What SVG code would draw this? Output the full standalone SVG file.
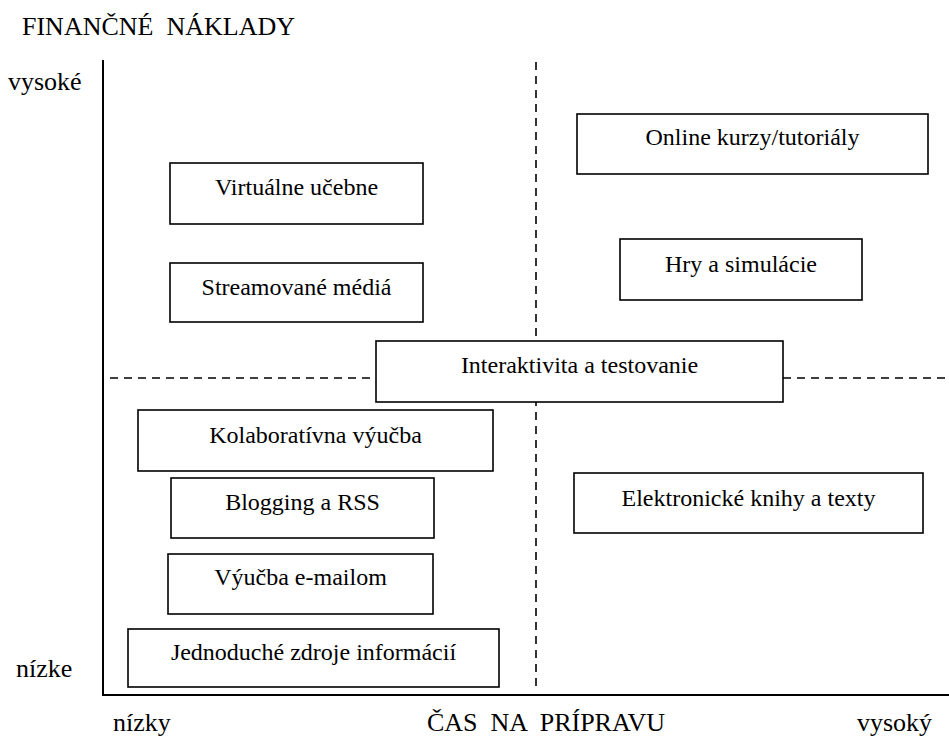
<svg xmlns="http://www.w3.org/2000/svg" width="949" height="739" viewBox="0 0 949 739">
<style>
.box{fill:#fff;stroke:#000;stroke-width:1.6}
.t{font-size:24px;fill:#000;text-anchor:middle}
.lab{font-size:26px;fill:#000}
.axis{stroke:#000;stroke-width:2;fill:none}
.dash{stroke:#000;stroke-width:1.6;stroke-dasharray:8 6;fill:none}
</style>
<rect width="949" height="739" fill="#fff"/>
<g id="connectors">
<line class="axis" x1="103" y1="60" x2="103" y2="695"/>
<line class="axis" x1="102" y1="695" x2="949" y2="695"/>
<line class="dash" x1="536" y1="62" x2="536" y2="688"/>
<line class="dash" x1="110" y1="378" x2="376" y2="378"/>
<line class="dash" x1="783" y1="378" x2="946" y2="378"/>
</g>
<g font-family="Liberation Serif, Times New Roman, DejaVu Serif, serif">
<g id="labels">
<text class="lab" x="22" y="35" xml:space="preserve">FINANČNÉ  NÁKLADY</text>
<text class="lab" x="8" y="90">vysoké</text>
<text class="lab" x="16" y="677">nízke</text>
<text class="lab" x="113" y="731">nízky</text>
<text class="lab" x="427" y="731" xml:space="preserve">ČAS  NA  PRÍPRAVU</text>
<text class="lab" x="857" y="731">vysoký</text>
</g>
<g id="virtualne">
<rect class="box" x="170" y="163" width="253" height="61"/>
<text class="t" x="296.5" y="195">Virtuálne učebne</text>
</g>
<g id="streamovane">
<rect class="box" x="170" y="263" width="253" height="59"/>
<text class="t" x="296.5" y="295">Streamované médiá</text>
</g>
<g id="interaktivita">
<rect class="box" x="376" y="341" width="407" height="61"/>
<text class="t" x="579.5" y="373">Interaktivita a testovanie</text>
</g>
<g id="online">
<rect class="box" x="577" y="114" width="351" height="60"/>
<text class="t" x="752.5" y="145">Online kurzy/tutoriály</text>
</g>
<g id="hry">
<rect class="box" x="620" y="239" width="242" height="61"/>
<text class="t" x="741" y="272">Hry a simulácie</text>
</g>
<g id="kolaborativna">
<rect class="box" x="138" y="410" width="355" height="61"/>
<text class="t" x="315.5" y="443">Kolaboratívna výučba</text>
</g>
<g id="blogging">
<rect class="box" x="171" y="478" width="263" height="60"/>
<text class="t" x="302.5" y="510">Blogging a RSS</text>
</g>
<g id="email">
<rect class="box" x="168" y="554" width="265" height="60"/>
<text class="t" x="300.5" y="585">Výučba e-mailom</text>
</g>
<g id="jednoduche">
<rect class="box" x="128" y="629" width="371" height="58"/>
<text class="t" x="313.5" y="660">Jednoduché zdroje informácií</text>
</g>
<g id="elektronicke">
<rect class="box" x="574" y="473" width="349" height="60"/>
<text class="t" x="748.5" y="506">Elektronické knihy a texty</text>
</g>
</g>
</svg>
